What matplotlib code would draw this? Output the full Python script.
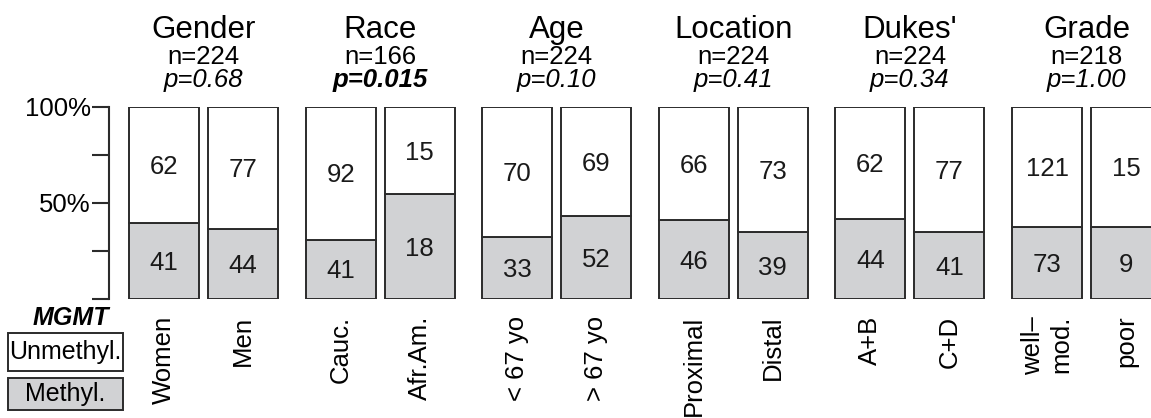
import matplotlib.pyplot as plt
import matplotlib.patches as mpatches
from matplotlib.transforms import blended_transform_factory, offset_copy
import numpy as np

plt.rcParams['font.family'] = ['Liberation Sans', 'DejaVu Sans']

# data
groups = ['Gender', 'Race', 'Age', 'Location', "Dukes'", 'Grade']
n_total = [224, 166, 224, 224, 224, 218]
p_values = ['0.68', '0.015', '0.10', '0.41', '0.34', '1.00']
p_bold = [False, True, False, False, False, False]
categories = ['Women', 'Men', 'Cauc.', 'Afr.Am.', '< 67 yo', '> 67 yo',
              'Proximal', 'Distal', 'A+B', 'C+D', 'well–\nmod.', 'poor']
unmethyl = [62, 77, 92, 15, 70, 69, 66, 73, 62, 77, 121, 15]
methyl = [41, 44, 41, 18, 33, 52, 46, 39, 44, 41, 73, 9]

gray = '#d1d2d4'
edge = '#2b2b2b'
fs = 18.5

W, H = 1151, 418
fig = plt.figure(figsize=(W / 100, H / 100), dpi=100)
ax = fig.add_axes([109 / W, (H - 299) / H, 1 - 109 / W, 192 / H])

# bar layout in pixel-like units
x0, gstep, pstep, bw = 129, 176.6, 79, 70
lefts = np.array([x0 + (i // 2) * gstep + (i % 2) * pstep for i in range(len(categories))])
centers = lefts + bw / 2

um = np.array(unmethyl, float)
me = np.array(methyl, float)
pct_m = me / (um + me) * 100
pct_u = 100 - pct_m

ax.bar(lefts, pct_m, width=bw, align='edge', color=gray, edgecolor=edge, linewidth=1.4)
ax.bar(lefts, pct_u, bottom=pct_m, width=bw, align='edge', color='white',
       edgecolor=edge, linewidth=1.4)

# nudge numbers down a touch so the digits sit centred in each segment
tdown = offset_copy(ax.transData, fig=fig, y=-2, units='dots')
for c, pm, pu, m, u in zip(centers, pct_m, pct_u, methyl, unmethyl):
    ax.text(c, pm / 2, str(m), ha='center', va='center', fontsize=fs,
            color='#1a1a1a', transform=tdown)
    ax.text(c, pm + pu / 2, str(u), ha='center', va='center', fontsize=fs,
            color='#1a1a1a', transform=tdown)

ax.set_xlim(109, 1151)
ax.set_ylim(0, 100)
for s in ['top', 'right', 'bottom']:
    ax.spines[s].set_visible(False)
ax.spines['left'].set_linewidth(1.5)
ax.spines['left'].set_color(edge)
ax.set_yticks([0, 25, 50, 75, 100])
ax.set_yticklabels(['', '', '50%', '', '100%'], fontsize=fs)
ax.tick_params(axis='y', length=12, width=1.5, color=edge, pad=1)

ax.set_xticks(centers)
ax.set_xticklabels(categories, rotation=90, fontsize=fs, va='top', ha='center',
                   multialignment='right')
ax.tick_params(axis='x', length=0, pad=12)

# group headers
tr = blended_transform_factory(ax.transData, fig.transFigure)
for g in range(len(groups)):
    cx = (centers[2 * g] + centers[2 * g + 1]) / 2
    ax.text(cx, (H - 38) / H, groups[g], transform=tr, ha='center', va='baseline',
            fontsize=22.5)
    ax.text(cx, (H - 64) / H, 'n=%d' % n_total[g], transform=tr, ha='center',
            va='baseline', fontsize=fs)
    ax.text(cx, (H - 87) / H, 'p=' + p_values[g], transform=tr, ha='center',
            va='baseline', fontsize=fs, style='italic',
            weight='bold' if p_bold[g] else 'normal')

# legend on the left
fig.text(71 / W, (H - 318) / H, 'MGMT', ha='center', va='center', fontsize=18,
         weight='bold', style='italic')
for y_top, y_bot, fc, lab in [(333, 371, 'white', 'Unmethyl.'), (378, 410, gray, 'Methyl.')]:
    fig.patches.append(mpatches.Rectangle((8 / W, (H - y_bot) / H), 115 / W,
                                          (y_bot - y_top) / H, transform=fig.transFigure,
                                          facecolor=fc, edgecolor=edge, linewidth=1.4))
    fig.text(65.5 / W, (H - (y_top + y_bot) / 2) / H, lab, ha='center', va='center',
             fontsize=18)

fig.savefig('out.png', dpi=100)
